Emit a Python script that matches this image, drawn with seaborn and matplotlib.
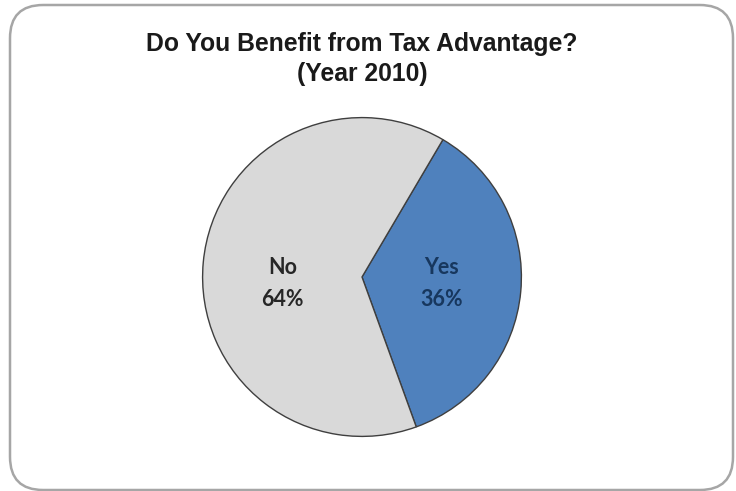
import matplotlib
matplotlib.use("Agg")
import matplotlib.pyplot as plt
from matplotlib.patches import FancyBboxPatch
import seaborn as sns

categories = ["Yes", "No"]
values = [36, 64]
pct_labels = ["36%", "64%"]
colors = ["#4F81BD", "#D9D9D9"]
title_line1 = "Do You Benefit from Tax Advantage?"
title_line2 = "(Year 2010)"

sns.set_theme(style="white")
plt.rcParams['font.family'] = ['Liberation Sans', 'DejaVu Sans']

W, H = 736, 491
fig = plt.figure(figsize=(W / 100, H / 100), dpi=100)
fig.patch.set_facecolor("white")

# rounded frame
frame = FancyBboxPatch((10 / W, 1 / H), 723 / W, 485 / H,
                       boxstyle="round,pad=0,rounding_size=0.045",
                       transform=fig.transFigure, facecolor="none",
                       edgecolor="#A6A6A6", linewidth=1.8, mutation_aspect=W / H,
                       clip_on=False, zorder=-1)
fig.patches.append(frame)

fig.text(362 / W, 1 - 44 / H, title_line1, ha="center",
         va="center", fontsize=17.8, fontweight="bold", color="#1a1a1a")
fig.text(362 / W, 1 - 74 / H, title_line2, ha="center",
         va="center", fontsize=17.8, fontweight="bold", color="#1a1a1a")

cx, cy, r = 362, 277, 161
ax = fig.add_axes([(cx - r) / W, (H - cy - r) / H, 2 * r / W, 2 * r / H])
labels = [f"{c}\n{p}" for c, p in zip(categories, pct_labels)]
wedges, texts = ax.pie(values, colors=colors, startangle=59.5, counterclock=False,
                       labels=labels, labeldistance=0.5,
                       wedgeprops=dict(edgecolor="#3F3F3F", linewidth=1.0),
                       textprops=dict(fontsize=15.5, fontweight="bold",
                                      family=['Lato', 'DejaVu Sans']))
text_colors = ["#17375E", "#262626"]
for t, c in zip(texts, text_colors):
    x, _ = t.get_position()
    t.set_position((x, -0.04))
    t.set_ha("center")
    t.set_va("center")
    t.set_color(c)
    t.set_linespacing(1.65)
ax.set_xlim(-1.01, 1.01)
ax.set_ylim(-1.01, 1.01)
ax.set_aspect("equal")
ax.axis("off")

fig.savefig("out.png", dpi=100, facecolor="white")
